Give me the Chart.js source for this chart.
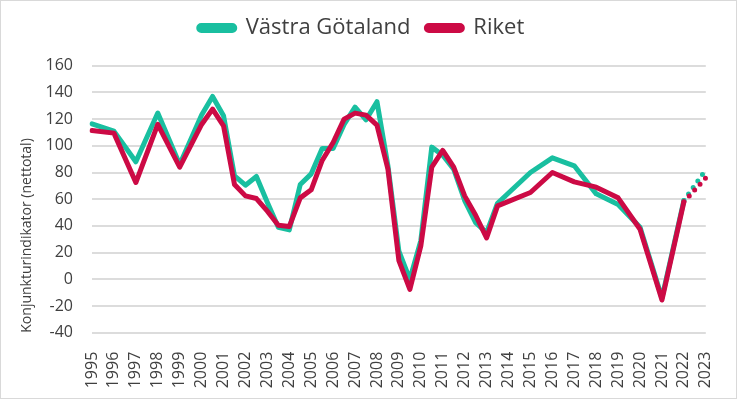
<!DOCTYPE html>
<html>
<head>
<meta charset="utf-8">
<script src="https://cdn.jsdelivr.net/npm/chart.js@4"></script>
<style>
  body { margin: 0; background: #fff; }
  #wrap { width: 737px; height: 399px; box-sizing: border-box; border: 1px solid #d9d9d9; }
</style>
</head>
<body>
<div id="wrap"><canvas id="lineChart"></canvas></div>
<script>
// År som visas på x-axeln (halvårsdata, etikett bara vid helår)
const ar = ['1995','1996','1997','1998','1999','2000','2001','2002','2003','2004',
  '2005','2006','2007','2008','2009','2010','2011','2012','2013','2014','2015',
  '2016','2017','2018','2019','2020','2021','2022','2023'];
const perioder = [];
ar.forEach((a, i) => {
    perioder.push(a);
    if (i < ar.length - 1) perioder.push('');
});

// Konjunkturindikator (nettotal), null = ingen punkt
const vastraGotaland = [116.5, null, 111, null, 88, null, 124.5, null, 86, null,
  123, 137, 122.5, 77.5, 70.5, 77, 57.5, 39, 37, 71,
  79, 98, 98, 116, 129, 119.5, 133, 85, 21, 0,
  29, 99, 93, 82.5, 59, 42.5, 35, 57, null, null,
  80, null, 91, null, 85, null, 64, null, 56, null,
  39, null, -14, null, 59, null, 82];
const riket = [111.5, null, 109.5, null, 72.5, null, 116, null, 84, null,
  116, 127.5, 115, 71, 62.5, 60.5, 51, 40.5, 39.5, 61,
  67, 89, 102.5, 120, 124.5, 123, 115.5, 82.5, 14, -7.5,
  25, 84, 96.5, 84, 62.5, 48, 31, 55, null, null,
  65, null, 80, null, 73, null, 69, null, 61, null,
  37.5, null, -15.5, null, 58, null, 76];
const prognosStart = 54;

const gron = '#19BFA0';
const rod = '#CC0A45';
const textFarg = '#404040';

const prickar = ctx => ctx.p0DataIndex >= prognosStart ? [0, 8] : undefined;

// Fast höjd på legenden så att diagramytan hamnar rätt
const legendHojd = {
    id: 'legendHojd',
    beforeInit(chart) {
        const fit = chart.legend.fit;
        chart.legend.fit = function () {
            fit.bind(chart.legend)();
            this.height = 64.7;
        };
    }
};

const ctx = document.getElementById('lineChart').getContext('2d');
const lineChart = new Chart(ctx, {
    type: 'line',
    data: {
        labels: perioder,
        datasets: [{
            label: 'Västra Götaland',
            data: vastraGotaland,
            borderColor: gron,
            backgroundColor: gron,
            borderWidth: 5,
            order: 1,
            segment: { borderDash: prickar }
        }, {
            label: 'Riket',
            data: riket,
            borderColor: rod,
            backgroundColor: rod,
            borderWidth: 5,
            order: 0,
            segment: { borderDash: prickar }
        }]
    },
    options: {
        responsive: true,
        maintainAspectRatio: false,
        animation: false,
        spanGaps: true,
        layout: { padding: { top: 0, right: 14, bottom: 0, left: 0 } },
        elements: {
            point: { radius: 0, hoverRadius: 0 },
            line: { tension: 0, borderCapStyle: 'round', borderJoinStyle: 'round' }
        },
        plugins: {
            tooltip: { enabled: false },
            legend: {
                position: 'top',
                labels: {
                    color: textFarg,
                    font: { family: 'Open Sans', size: 22 },
                    boxWidth: 36,
                    boxHeight: 5,
                    useBorderRadius: true,
                    borderRadius: 2.5,
                    padding: 16,
                    sort: (a, b) => a.datasetIndex - b.datasetIndex
                }
            }
        },
        scales: {
            x: {
                grid: { display: false },
                border: { display: false },
                ticks: {
                    color: textFarg,
                    font: { family: 'Open Sans', size: 16 },
                    autoSkip: false,
                    minRotation: 90,
                    maxRotation: 90,
                    padding: 11
                },
                afterFit: s => { s.height = 65.3; }
            },
            y: {
                min: -40,
                max: 160,
                grid: { color: '#dcdcdc', lineWidth: 2, drawTicks: false },
                border: { display: false },
                ticks: {
                    stepSize: 20,
                    color: textFarg,
                    font: { family: 'Open Sans', size: 16 },
                    padding: 19
                },
                title: {
                    display: true,
                    text: 'Konjunkturindikator (nettotal)',
                    color: textFarg,
                    font: { family: 'Open Sans', size: 14 },
                    align: 'start',
                    padding: { top: 18, bottom: 0 }
                },
                afterFit: s => { s.width = 91; }
            }
        }
    },
    plugins: [legendHojd]
});
</script>
</body>
</html>
